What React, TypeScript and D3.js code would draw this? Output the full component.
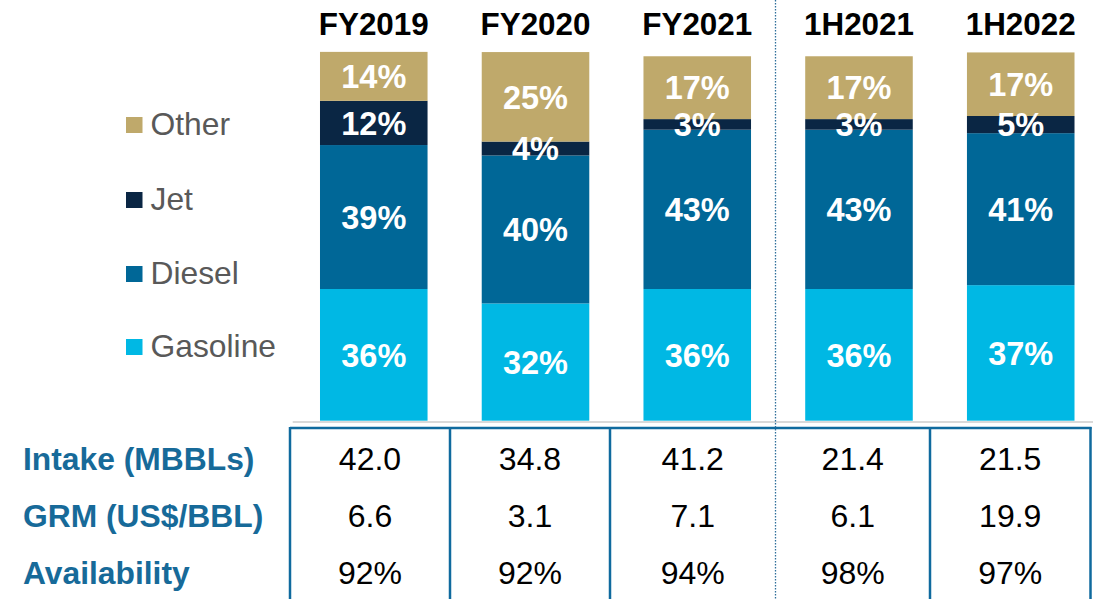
import React from "react";
import * as d3 from "d3";

// ---------- data ----------
const categories = ["FY2019", "FY2020", "FY2021", "1H2021", "1H2022"];
const seriesNames = ["Gasoline", "Diesel", "Jet", "Other"]; // bottom -> top
// segment sizes as drawn (% of intake)
const gasoline = [36.05, 32.1, 36.05, 36.05, 37.1];
const diesel = [39.4, 40.5, 43.6, 43.6, 41.6];
const jet = [12.1, 3.8, 2.9, 2.9, 4.7];
const other = [13.4, 24.5, 17.2, 17.2, 17.4];
// labels printed on the segments
const gasolineLabels = ["36%", "32%", "36%", "36%", "37%"];
const dieselLabels = ["39%", "40%", "43%", "43%", "41%"];
const jetLabels = ["12%", "4%", "3%", "3%", "5%"];
const otherLabels = ["14%", "25%", "17%", "17%", "17%"];
// table rows
const rowTitles = ["Intake (MBBLs)", "GRM (US$/BBL)", "Availability"];
const intake = ["42.0", "34.8", "41.2", "21.4", "21.5"];
const grm = ["6.6", "3.1", "7.1", "6.1", "19.9"];
const availability = ["92%", "92%", "94%", "98%", "97%"];
const legendOrder = ["Other", "Jet", "Diesel", "Gasoline"];

const colors: Record<string, string> = {
  Gasoline: "#00B8E4",
  Diesel: "#006797",
  Jet: "#0A2644",
  Other: "#BFA96B",
};

const W = 1093;
const H = 599;
const FONT = "'Liberation Sans', Arial, Helvetica, sans-serif";

export default function App() {
  const seriesValues: Record<string, number[]> = {
    Gasoline: gasoline,
    Diesel: diesel,
    Jet: jet,
    Other: other,
  };
  const seriesLabels: Record<string, string[]> = {
    Gasoline: gasolineLabels,
    Diesel: dieselLabels,
    Jet: jetLabels,
    Other: otherLabels,
  };
  const table = categories.map((c, i) => {
    const row: Record<string, any> = { cat: c };
    seriesNames.forEach((s) => (row[s] = seriesValues[s][i]));
    return row;
  });
  const stacked = d3.stack<any>().keys(seriesNames)(table);

  const x = d3
    .scaleBand<string>()
    .domain(categories)
    .range([292.9, 1101.6])
    .paddingInner(0.335)
    .paddingOuter(0.1675);
  const y = d3.scaleLinear().domain([0, 101]).range([420.7, 51.7]);

  // table layout
  const colEdges = [290, 450, 610, 775.5, 930, 1090.5];
  const rowBaselines = [470, 527, 584];
  const rows = [intake, grm, availability];
  const legendBaselines = [135, 210, 284, 357];
  const tableBlue = "#0F6A9E";

  return (
    <svg width={W} height={H} style={{ position: "absolute", left: 0, top: 0, background: "#fff" }} fontFamily={FONT}>
      {/* headers */}
      {categories.map((c) => (
        <text key={c} x={x(c)! + x.bandwidth() / 2} y={35} textAnchor="middle" fontSize={31.4} fontWeight="bold" fill="#000">
          {c}
        </text>
      ))}

      {/* bars */}
      {stacked.map((layer) => (
        <g key={layer.key} fill={colors[layer.key]}>
          {layer.map((d, i) => (
            <rect
              key={i}
              x={x(categories[i])}
              width={x.bandwidth()}
              y={y(d[1])}
              height={y(d[0]) - y(d[1])}
            />
          ))}
        </g>
      ))}
      {stacked.map((layer) => (
        <g key={layer.key + "-lbl"}>
          {layer.map((d, i) => (
            <text
              key={i}
              x={x(categories[i])! + x.bandwidth() / 2}
              y={(y(d[0]) + y(d[1])) / 2}
              dy="0.36em"
              textAnchor="middle"
              fontSize={32.5}
              fontWeight="bold"
              fill="#fff"
            >
              {seriesLabels[layer.key][i]}
            </text>
          ))}
        </g>
      ))}

      {/* legend */}
      {legendOrder.map((s, i) => (
        <g key={s}>
          <rect x={126} y={legendBaselines[i] - 18} width={16.5} height={16} fill={colors[s]} />
          <text x={150.5} y={legendBaselines[i]} fontSize={31.8} fill="#595959">
            {s}
          </text>
        </g>
      ))}

      {/* axis baseline */}
      <line x1={292.7} x2={W} y1={422} y2={422} stroke="#D9D9D9" strokeWidth={2} />

      {/* table */}
      <line x1={colEdges[0]} x2={colEdges[colEdges.length - 1] + 1} y1={428} y2={428} stroke={tableBlue} strokeWidth={2.5} />
      {colEdges.map((e, i) =>
        i === 3 ? null : (
          <line key={i} x1={e} x2={e} y1={427} y2={H} stroke={tableBlue} strokeWidth={2.5} />
        )
      )}
      <line x1={colEdges[3]} x2={colEdges[3]} y1={0} y2={H} stroke="#2E6F9A" strokeWidth={1.3} strokeDasharray="1.5,1.5" />

      {rowTitles.map((t, r) => (
        <text key={t} x={23} y={rowBaselines[r]} fontSize={31.8} fontWeight="bold" fill="#176A99">
          {t}
        </text>
      ))}
      {rows.map((vals, r) =>
        vals.map((v, i) => (
          <text
            key={r + "-" + i}
            x={(colEdges[i] + colEdges[i + 1]) / 2}
            y={rowBaselines[r]}
            textAnchor="middle"
            fontSize={32}
            fill="#000"
          >
            {v}
          </text>
        ))
      )}
    </svg>
  );
}
